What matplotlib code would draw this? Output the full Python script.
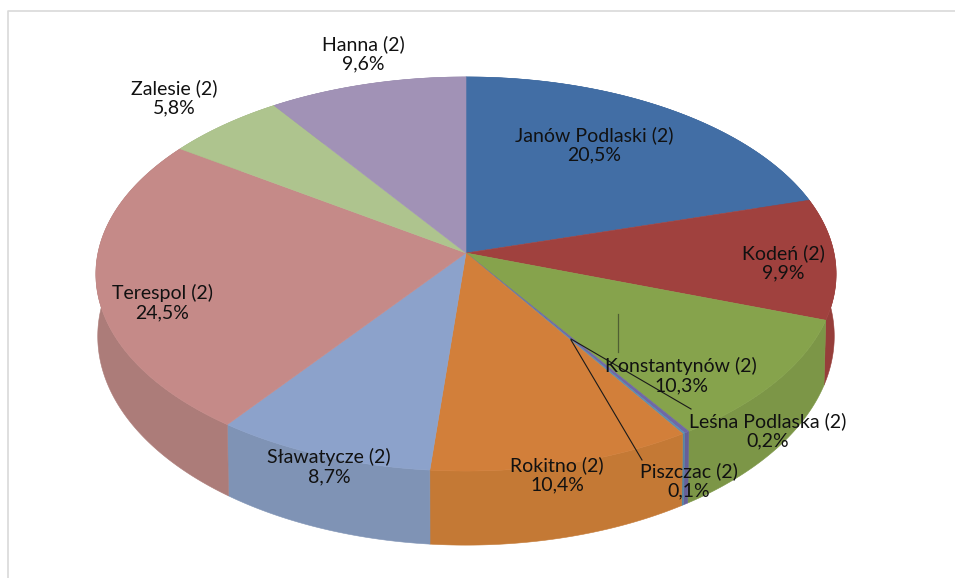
# 3D style pie chart, percent shares per commune
import numpy as np
import matplotlib
matplotlib.use("Agg")
import matplotlib.pyplot as plt

names = ["Janów Podlaski (2)", "Kodeń (2)", "Konstantynów (2)", "Leśna Podlaska (2)",
         "Piszczac (2)", "Rokitno (2)", "Sławatycze (2)", "Terespol (2)", "Zalesie (2)", "Hanna (2)"]
values = [20.5, 9.9, 10.3, 0.2, 0.1, 10.4, 8.7, 24.5, 5.8, 9.6]
top_colors = ["#426EA5", "#A0413E", "#86A34C", "#6F68A6", "#5C8FB0",
              "#D27F3A", "#8CA2CB", "#C58A88", "#AEC48E", "#A192B6"]
side_colors = ["#3C6496", "#963E3A", "#7C9647", "#675F98", "#5684A2",
               "#C47935", "#7F93B5", "#AC7C79", "#9FB381", "#9386A6"]
label_pos = [(594, 145), (783, 263), (681, 376), (768, 431), (689, 481),
             (557, 475), (329, 467), (162, 303), (174, 98), (363, 54)]

plt.rcParams['font.family'] = ['Lato', 'DejaVu Sans']

CX, CY = 466, 253


def project(ang, bottom=False):
    # circle to perspective ellipse, angle clockwise from top
    u = np.sin(ang)
    v = np.cos(ang)
    w = 1 + 0.1066*v
    x = 368*u/w
    y = -194.8*v/w
    if bottom:
        return CX + 0.995*x, CY + 61 + 1.06*y
    return CX + x, CY + y


fig = plt.figure(figsize=(9.55, 5.78), dpi=100)
ax = fig.add_axes([0, 0, 1, 1])
ax.set_xlim(0, 955)
ax.set_ylim(578, 0)
ax.axis('off')

# chart frame
ax.plot([7.5, 7.5, 955], [578, 10.5, 10.5], color="#D9D9D9", lw=1.2, zorder=1)

edges = np.cumsum([0] + values)/100*2*np.pi

# side walls first, the top faces cover the hidden part
for i in range(len(values)):
    a = np.linspace(edges[i], edges[i+1], max(int(values[i]*6), 3))
    xt, yt = project(a)
    xb, yb = project(a, bottom=True)
    ax.fill(np.r_[xt, xb[::-1]], np.r_[yt, yb[::-1]], color=side_colors[i], lw=0.4, zorder=2)

for i in range(len(values)):
    a = np.linspace(edges[i], edges[i+1], max(int(values[i]*6), 3))
    xs, ys = project(a)
    ax.fill(np.r_[CX, xs], np.r_[CY, ys], color=top_colors[i], lw=0.4, zorder=3)

# leader lines
ax.plot([618, 618], [314, 352], color="#4F5F33", lw=0.9, zorder=4)
ax.plot([571, 691], [339, 409], color="#1A1A1A", lw=0.8, zorder=4)
ax.plot([571, 642], [340, 460], color="#1A1A1A", lw=0.8, zorder=4)

for name, val, (lx, ly) in zip(names, values, label_pos):
    txt = name + "\n" + f"{val:.1f}".replace(".", ",") + "%"
    ax.text(lx, ly, txt, ha='center', va='center', fontsize=14, color="#111111",
            linespacing=1.17, zorder=5)

fig.savefig("out.png", dpi=100)
